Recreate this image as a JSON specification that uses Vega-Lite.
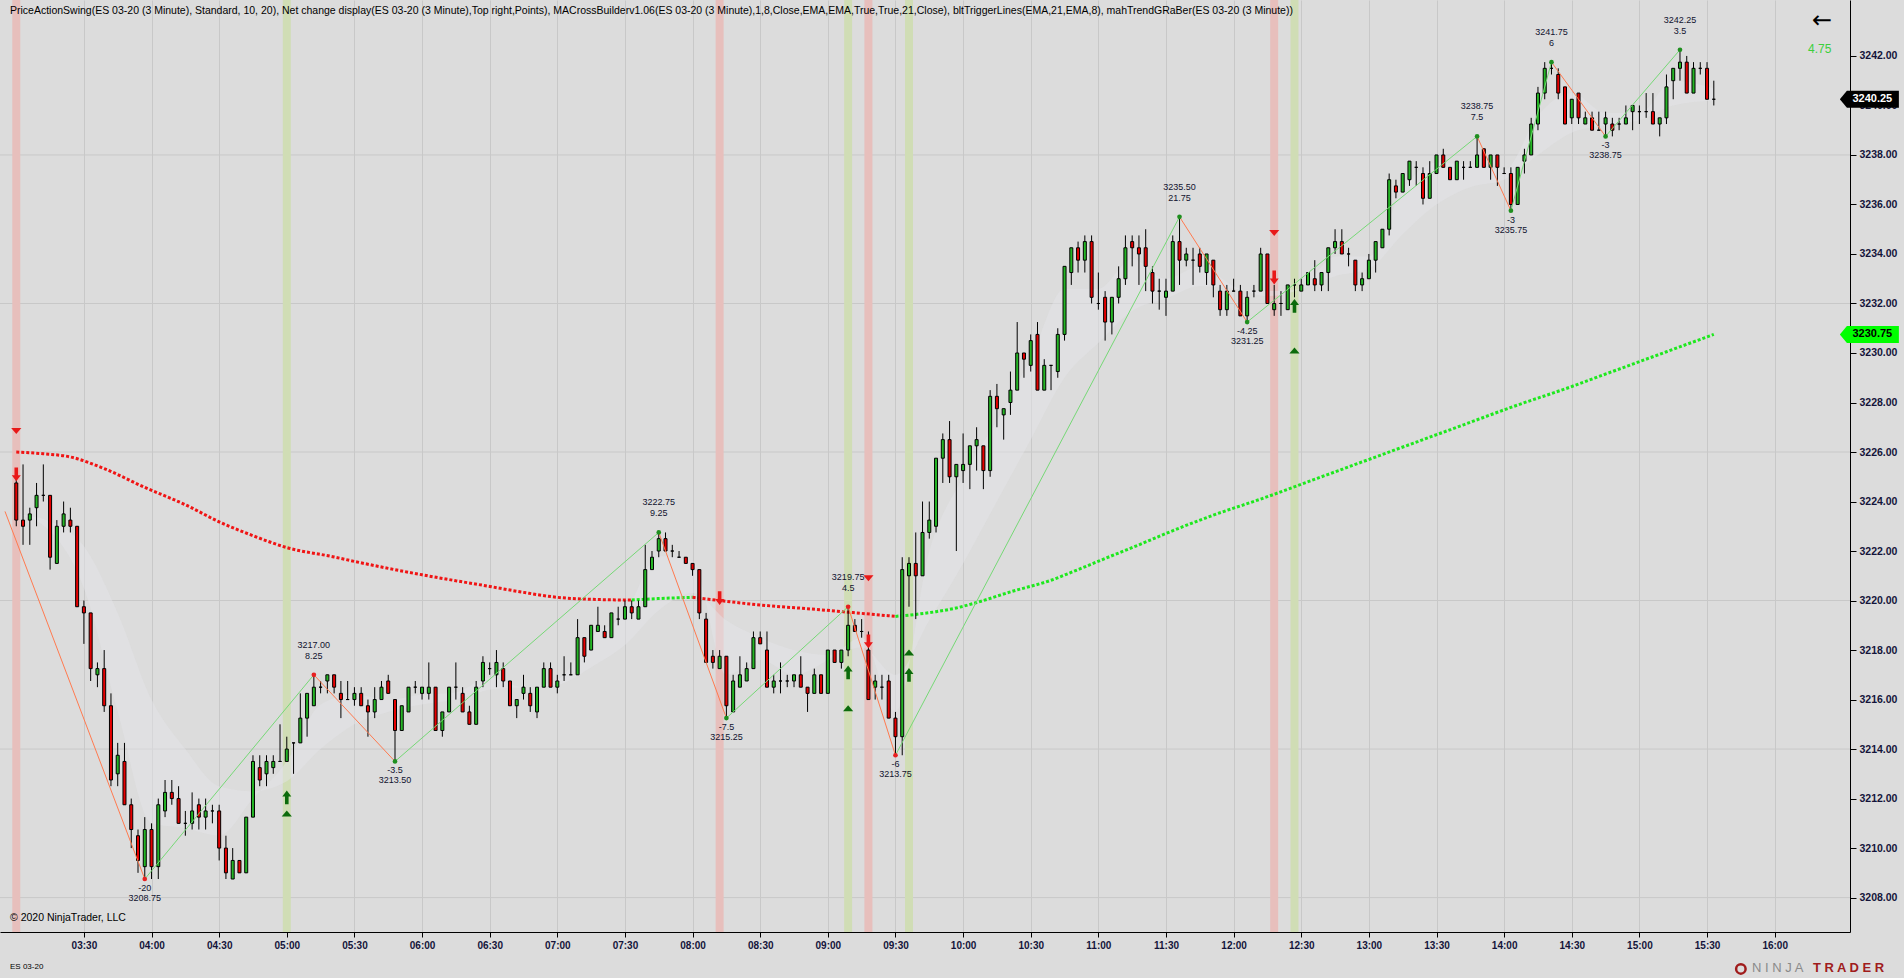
{
  "$schema": "https://vega.github.io/schema/vega-lite/v6.json",
  "width": 1850,
  "height": 932,
  "padding": {"left": 0, "top": 0, "right": 54, "bottom": 46},
  "autosize": {"type": "none"},
  "background": "#dcdcdc",
  "config": {"view": {"stroke": null}, "font": "Liberation Sans"},
  "datasets": {
    "c": [
      {"t":180,"o":3224.75,"h":3225.25,"l":3223,"c":3223.25},
      {"t":183,"o":3223.25,"h":3225.5,"l":3222.25,"c":3223},
      {"t":186,"o":3223.25,"h":3223.75,"l":3222.25,"c":3223.5},
      {"t":189,"o":3223.75,"h":3224.75,"l":3223,"c":3224.25},
      {"t":192,"o":3224.25,"h":3225.5,"l":3224,"c":3224.25},
      {"t":195,"o":3224.25,"h":3224.25,"l":3221.25,"c":3221.75},
      {"t":198,"o":3221.5,"h":3223.25,"l":3221.5,"c":3223},
      {"t":201,"o":3223,"h":3224,"l":3222.75,"c":3223.5},
      {"t":204,"o":3223.25,"h":3223.75,"l":3222.75,"c":3223},
      {"t":207,"o":3223,"h":3223,"l":3219.75,"c":3219.75},
      {"t":210,"o":3219.75,"h":3220,"l":3218.25,"c":3219.5},
      {"t":213,"o":3219.5,"h":3219.5,"l":3216.75,"c":3217.25},
      {"t":216,"o":3217,"h":3217.5,"l":3216.5,"c":3217.25},
      {"t":219,"o":3217.25,"h":3218,"l":3215.5,"c":3215.75},
      {"t":222,"o":3215.75,"h":3216.25,"l":3212.5,"c":3212.75},
      {"t":225,"o":3213,"h":3214.25,"l":3212.5,"c":3213.75},
      {"t":228,"o":3213.5,"h":3214.25,"l":3211.75,"c":3211.75},
      {"t":231,"o":3211.75,"h":3212,"l":3210,"c":3210.75},
      {"t":234,"o":3210.5,"h":3210.75,"l":3209,"c":3209.5},
      {"t":237,"o":3209.25,"h":3211.25,"l":3208.75,"c":3210.75},
      {"t":240,"o":3210.75,"h":3211,"l":3208.75,"c":3209.25},
      {"t":243,"o":3209.25,"h":3212,"l":3208.75,"c":3211.75},
      {"t":246,"o":3211.5,"h":3212.75,"l":3211.25,"c":3212.25},
      {"t":249,"o":3212.25,"h":3212.75,"l":3211.75,"c":3212},
      {"t":252,"o":3212,"h":3212.5,"l":3211,"c":3211},
      {"t":255,"o":3211,"h":3211.5,"l":3210.5,"c":3211},
      {"t":258,"o":3211,"h":3212.25,"l":3210.75,"c":3211.5},
      {"t":261,"o":3211.75,"h":3212,"l":3210.75,"c":3211.25},
      {"t":264,"o":3211.25,"h":3212,"l":3210.75,"c":3211.5},
      {"t":267,"o":3211.5,"h":3211.75,"l":3211,"c":3211.5},
      {"t":270,"o":3211.5,"h":3211.75,"l":3209.5,"c":3210},
      {"t":273,"o":3210,"h":3210.5,"l":3208.75,"c":3209},
      {"t":276,"o":3208.75,"h":3210,"l":3208.75,"c":3209.5},
      {"t":279,"o":3209.5,"h":3209.5,"l":3209,"c":3209},
      {"t":282,"o":3209,"h":3211.25,"l":3209,"c":3211.25},
      {"t":285,"o":3211.25,"h":3213.75,"l":3211.25,"c":3213.5},
      {"t":288,"o":3213.25,"h":3213.75,"l":3212.5,"c":3212.75},
      {"t":291,"o":3213,"h":3213.75,"l":3212.5,"c":3213.5},
      {"t":294,"o":3213.25,"h":3213.75,"l":3213,"c":3213.5},
      {"t":297,"o":3213.5,"h":3215,"l":3213.5,"c":3213.5},
      {"t":300,"o":3213.5,"h":3214.5,"l":3213.5,"c":3214},
      {"t":303,"o":3214.25,"h":3214.25,"l":3213,"c":3214.25},
      {"t":306,"o":3214.25,"h":3216.25,"l":3214.25,"c":3215.25},
      {"t":309,"o":3215.25,"h":3216.25,"l":3214.5,"c":3216.25},
      {"t":312,"o":3215.75,"h":3217,"l":3215.75,"c":3216.5},
      {"t":315,"o":3216.5,"h":3216.75,"l":3216.25,"c":3216.5},
      {"t":318,"o":3216.75,"h":3217,"l":3216.25,"c":3217},
      {"t":321,"o":3217,"h":3217,"l":3216.25,"c":3216.5},
      {"t":324,"o":3216.25,"h":3216.75,"l":3215.25,"c":3216},
      {"t":327,"o":3216,"h":3216.75,"l":3216,"c":3216},
      {"t":330,"o":3216,"h":3216.5,"l":3215.75,"c":3216.25},
      {"t":333,"o":3216.25,"h":3216.5,"l":3215.75,"c":3215.75},
      {"t":336,"o":3215.75,"h":3216,"l":3214.5,"c":3215.5},
      {"t":339,"o":3215.5,"h":3216.5,"l":3215.25,"c":3216},
      {"t":342,"o":3216,"h":3216.75,"l":3216,"c":3216.5},
      {"t":345,"o":3216.75,"h":3217,"l":3216.25,"c":3216.25},
      {"t":348,"o":3216,"h":3216,"l":3213.5,"c":3214.75},
      {"t":351,"o":3214.75,"h":3215.75,"l":3214.75,"c":3215.75},
      {"t":354,"o":3215.5,"h":3216.5,"l":3215.5,"c":3216.5},
      {"t":357,"o":3216.5,"h":3216.75,"l":3216.25,"c":3216.5},
      {"t":360,"o":3216.25,"h":3216.5,"l":3216,"c":3216.5},
      {"t":363,"o":3216.25,"h":3217.5,"l":3216,"c":3216.5},
      {"t":366,"o":3216.5,"h":3216.5,"l":3214.75,"c":3214.75},
      {"t":369,"o":3214.75,"h":3215.5,"l":3214.5,"c":3215.5},
      {"t":372,"o":3215.5,"h":3216.5,"l":3215.5,"c":3216.5},
      {"t":375,"o":3216.5,"h":3217.5,"l":3216,"c":3216.5},
      {"t":378,"o":3216.25,"h":3216.5,"l":3215.5,"c":3215.5},
      {"t":381,"o":3215.5,"h":3215.75,"l":3215,"c":3215},
      {"t":384,"o":3215,"h":3216.75,"l":3215,"c":3216.5},
      {"t":387,"o":3216.75,"h":3217.75,"l":3216.5,"c":3217.5},
      {"t":390,"o":3217.25,"h":3217.5,"l":3217,"c":3217.25},
      {"t":393,"o":3217,"h":3218,"l":3216.5,"c":3217.5},
      {"t":396,"o":3217.25,"h":3217.5,"l":3216.5,"c":3216.75},
      {"t":399,"o":3216.75,"h":3216.75,"l":3215.75,"c":3215.75},
      {"t":402,"o":3215.75,"h":3216,"l":3215.25,"c":3216},
      {"t":405,"o":3216.25,"h":3217,"l":3216,"c":3216.5},
      {"t":408,"o":3216.25,"h":3216.5,"l":3215.5,"c":3215.75},
      {"t":411,"o":3215.5,"h":3216.5,"l":3215.25,"c":3216.5},
      {"t":414,"o":3216.5,"h":3217.5,"l":3216.5,"c":3217.25},
      {"t":417,"o":3217.25,"h":3217.5,"l":3216.5,"c":3216.5},
      {"t":420,"o":3216.5,"h":3217,"l":3216.25,"c":3216.75},
      {"t":423,"o":3217,"h":3217.75,"l":3216.75,"c":3217},
      {"t":426,"o":3217,"h":3217.5,"l":3217,"c":3217},
      {"t":429,"o":3217,"h":3219.25,"l":3217,"c":3218.5},
      {"t":432,"o":3218.5,"h":3218.5,"l":3217.5,"c":3217.75},
      {"t":435,"o":3218,"h":3219,"l":3218,"c":3219},
      {"t":438,"o":3218.75,"h":3219.75,"l":3218.75,"c":3219},
      {"t":441,"o":3218.75,"h":3219,"l":3218.5,"c":3218.5},
      {"t":444,"o":3218.5,"h":3219.5,"l":3218.5,"c":3219.5},
      {"t":447,"o":3219.25,"h":3219.75,"l":3219,"c":3219.25},
      {"t":450,"o":3219.25,"h":3220,"l":3219.25,"c":3219.75},
      {"t":453,"o":3219.75,"h":3220,"l":3219.25,"c":3219.5},
      {"t":456,"o":3219.25,"h":3220,"l":3219.25,"c":3219.75},
      {"t":459,"o":3219.75,"h":3222.25,"l":3219.75,"c":3221.25},
      {"t":462,"o":3221.25,"h":3222,"l":3221.25,"c":3221.75},
      {"t":465,"o":3222,"h":3222.75,"l":3221.75,"c":3222.5},
      {"t":468,"o":3222.5,"h":3222.75,"l":3222,"c":3222},
      {"t":471,"o":3222,"h":3222.25,"l":3221.75,"c":3222},
      {"t":474,"o":3221.75,"h":3222,"l":3221.75,"c":3221.75},
      {"t":477,"o":3221.75,"h":3221.75,"l":3221.5,"c":3221.5},
      {"t":480,"o":3221.5,"h":3221.5,"l":3221,"c":3221.25},
      {"t":483,"o":3221.25,"h":3221.25,"l":3219.25,"c":3219.5},
      {"t":486,"o":3219.25,"h":3219.5,"l":3217.5,"c":3217.5},
      {"t":489,"o":3217.75,"h":3218,"l":3217.25,"c":3217.5},
      {"t":492,"o":3217.25,"h":3218,"l":3217.25,"c":3217.75},
      {"t":495,"o":3217.75,"h":3217.75,"l":3215.25,"c":3215.75},
      {"t":498,"o":3215.5,"h":3217,"l":3215.5,"c":3216.75},
      {"t":501,"o":3216.5,"h":3217.75,"l":3216.5,"c":3217},
      {"t":504,"o":3216.75,"h":3217.5,"l":3216.75,"c":3217.25},
      {"t":507,"o":3217.25,"h":3218.75,"l":3217.25,"c":3218.5},
      {"t":510,"o":3218.5,"h":3218.75,"l":3218.25,"c":3218.25},
      {"t":513,"o":3218,"h":3218.75,"l":3216.5,"c":3216.5},
      {"t":516,"o":3216.5,"h":3217,"l":3216.25,"c":3216.75},
      {"t":519,"o":3216.75,"h":3217.5,"l":3216.25,"c":3216.75},
      {"t":522,"o":3216.75,"h":3217,"l":3216.5,"c":3216.75},
      {"t":525,"o":3216.75,"h":3217,"l":3216.5,"c":3217},
      {"t":528,"o":3217,"h":3217.75,"l":3216.5,"c":3216.5},
      {"t":531,"o":3216.5,"h":3216.5,"l":3215.5,"c":3216.25},
      {"t":534,"o":3216.25,"h":3217.25,"l":3216.25,"c":3217},
      {"t":537,"o":3217,"h":3217,"l":3216.25,"c":3216.25},
      {"t":540,"o":3216.25,"h":3218,"l":3216.25,"c":3218},
      {"t":543,"o":3218,"h":3218,"l":3217.5,"c":3217.5},
      {"t":546,"o":3217.5,"h":3218,"l":3217.25,"c":3218},
      {"t":549,"o":3218,"h":3219.75,"l":3217.75,"c":3219},
      {"t":552,"o":3219,"h":3219.25,"l":3218.75,"c":3218.75},
      {"t":555,"o":3218.75,"h":3219.25,"l":3218.5,"c":3218.75},
      {"t":558,"o":3218,"h":3218.75,"l":3216,"c":3216},
      {"t":561,"o":3216.5,"h":3217,"l":3216,"c":3216.75},
      {"t":564,"o":3216.5,"h":3217,"l":3216,"c":3216.5},
      {"t":567,"o":3216.75,"h":3217,"l":3215.25,"c":3215.25},
      {"t":570,"o":3215.25,"h":3215.5,"l":3213.75,"c":3214.5},
      {"t":573,"o":3214.5,"h":3221.75,"l":3213.75,"c":3221.25},
      {"t":576,"o":3221,"h":3221.75,"l":3219.75,"c":3221.5},
      {"t":579,"o":3221.5,"h":3222.75,"l":3219.25,"c":3221},
      {"t":582,"o":3221,"h":3224,"l":3221,"c":3222.75},
      {"t":585,"o":3222.75,"h":3224,"l":3222.5,"c":3223.25},
      {"t":588,"o":3223,"h":3225.75,"l":3222.75,"c":3225.75},
      {"t":591,"o":3225.75,"h":3226.75,"l":3224.75,"c":3226.5},
      {"t":594,"o":3226.5,"h":3227.25,"l":3224.75,"c":3225},
      {"t":597,"o":3225,"h":3225.5,"l":3222,"c":3225.5},
      {"t":600,"o":3225.25,"h":3226.75,"l":3224.75,"c":3225.5},
      {"t":603,"o":3225.5,"h":3226.25,"l":3224.5,"c":3226.25},
      {"t":606,"o":3226.25,"h":3227,"l":3225.25,"c":3226.5},
      {"t":609,"o":3226.25,"h":3226.25,"l":3224.5,"c":3225.25},
      {"t":612,"o":3225.25,"h":3228.5,"l":3225,"c":3228.25},
      {"t":615,"o":3228.25,"h":3228.75,"l":3227,"c":3227.75},
      {"t":618,"o":3227.5,"h":3227.75,"l":3226.5,"c":3227.75},
      {"t":621,"o":3228,"h":3229.25,"l":3227.5,"c":3228.5},
      {"t":624,"o":3228.5,"h":3231.25,"l":3228.5,"c":3230},
      {"t":627,"o":3230,"h":3230,"l":3229,"c":3229.75},
      {"t":630,"o":3229.5,"h":3230.75,"l":3229.25,"c":3230.5},
      {"t":633,"o":3230.75,"h":3231.25,"l":3228.5,"c":3228.5},
      {"t":636,"o":3228.5,"h":3229.75,"l":3228.5,"c":3229.5},
      {"t":639,"o":3229.5,"h":3229.5,"l":3228.5,"c":3229.5},
      {"t":642,"o":3229.25,"h":3231,"l":3229,"c":3230.75},
      {"t":645,"o":3230.75,"h":3233.5,"l":3230.5,"c":3233.5},
      {"t":648,"o":3233.25,"h":3234.25,"l":3232.75,"c":3234.25},
      {"t":651,"o":3234.25,"h":3234.5,"l":3233.25,"c":3233.75},
      {"t":654,"o":3233.75,"h":3234.75,"l":3233.25,"c":3234.5},
      {"t":657,"o":3234.5,"h":3234.75,"l":3232,"c":3232.25},
      {"t":660,"o":3232,"h":3233.25,"l":3231.75,"c":3232},
      {"t":663,"o":3232.25,"h":3232.5,"l":3230.5,"c":3231.25},
      {"t":666,"o":3231.25,"h":3232.25,"l":3230.75,"c":3232.25},
      {"t":669,"o":3232.25,"h":3233.5,"l":3232,"c":3233},
      {"t":672,"o":3233,"h":3234.75,"l":3232.75,"c":3234.25},
      {"t":675,"o":3234.5,"h":3234.75,"l":3233.5,"c":3234.25},
      {"t":678,"o":3234.25,"h":3234.75,"l":3232.75,"c":3234},
      {"t":681,"o":3234.25,"h":3235,"l":3232.5,"c":3233.5},
      {"t":684,"o":3233.25,"h":3233.5,"l":3232,"c":3232.5},
      {"t":687,"o":3232.5,"h":3233,"l":3231.75,"c":3232.5},
      {"t":690,"o":3232.25,"h":3233,"l":3231.5,"c":3232.5},
      {"t":693,"o":3232.5,"h":3234.75,"l":3232.5,"c":3234.5},
      {"t":696,"o":3234.5,"h":3235.5,"l":3232.75,"c":3233.75},
      {"t":699,"o":3233.75,"h":3234.25,"l":3233.5,"c":3234},
      {"t":702,"o":3233.75,"h":3234.25,"l":3232.75,"c":3233.75},
      {"t":705,"o":3234,"h":3234.25,"l":3233.25,"c":3233.5},
      {"t":708,"o":3233.25,"h":3234,"l":3232.75,"c":3234},
      {"t":711,"o":3233.75,"h":3233.75,"l":3232.25,"c":3232.75},
      {"t":714,"o":3232.5,"h":3232.75,"l":3231.5,"c":3231.75},
      {"t":717,"o":3231.75,"h":3232.75,"l":3231.5,"c":3232.5},
      {"t":720,"o":3232.5,"h":3233,"l":3232.5,"c":3232.5},
      {"t":723,"o":3232.5,"h":3232.75,"l":3231.5,"c":3231.5},
      {"t":726,"o":3231.5,"h":3232.5,"l":3231.25,"c":3232.25},
      {"t":729,"o":3232.5,"h":3232.75,"l":3232.25,"c":3232.5},
      {"t":732,"o":3232.5,"h":3234.25,"l":3232.5,"c":3234},
      {"t":735,"o":3234,"h":3234,"l":3232,"c":3232},
      {"t":738,"o":3231.75,"h":3232.75,"l":3231.5,"c":3232},
      {"t":741,"o":3232,"h":3232.5,"l":3231.5,"c":3232},
      {"t":744,"o":3231.75,"h":3232.75,"l":3231.75,"c":3232.75},
      {"t":747,"o":3232.75,"h":3233,"l":3232.25,"c":3232.75},
      {"t":750,"o":3232.5,"h":3233,"l":3232.5,"c":3232.75},
      {"t":753,"o":3232.75,"h":3233.25,"l":3232.75,"c":3233.25},
      {"t":756,"o":3233,"h":3233.75,"l":3232.5,"c":3232.75},
      {"t":759,"o":3232.75,"h":3233.25,"l":3232.5,"c":3233.25},
      {"t":762,"o":3233.25,"h":3234.25,"l":3232.5,"c":3234.25},
      {"t":765,"o":3234.25,"h":3235,"l":3234,"c":3234.5},
      {"t":768,"o":3234.5,"h":3235,"l":3234,"c":3234},
      {"t":771,"o":3234,"h":3234.25,"l":3233.5,"c":3234},
      {"t":774,"o":3233.75,"h":3233.75,"l":3232.5,"c":3232.75},
      {"t":777,"o":3232.75,"h":3233.25,"l":3232.5,"c":3233},
      {"t":780,"o":3233,"h":3234,"l":3233,"c":3233.75},
      {"t":783,"o":3233.75,"h":3234.5,"l":3233.25,"c":3234.5},
      {"t":786,"o":3234.25,"h":3235,"l":3234.25,"c":3235},
      {"t":789,"o":3235,"h":3237.25,"l":3234.75,"c":3237},
      {"t":792,"o":3236.75,"h":3237,"l":3236.25,"c":3236.5},
      {"t":795,"o":3236.5,"h":3237.25,"l":3236.5,"c":3237.25},
      {"t":798,"o":3237,"h":3237.75,"l":3236.75,"c":3237.75},
      {"t":801,"o":3237.5,"h":3237.75,"l":3236.75,"c":3237.5},
      {"t":804,"o":3237.25,"h":3237.5,"l":3236,"c":3236.25},
      {"t":807,"o":3236.25,"h":3237.75,"l":3236.25,"c":3237.25},
      {"t":810,"o":3237.25,"h":3238,"l":3237.25,"c":3238},
      {"t":813,"o":3238,"h":3238.25,"l":3237.5,"c":3237.5},
      {"t":816,"o":3237.5,"h":3237.5,"l":3237,"c":3237},
      {"t":819,"o":3237,"h":3237.75,"l":3237,"c":3237.75},
      {"t":822,"o":3237.5,"h":3237.75,"l":3237,"c":3237.5},
      {"t":825,"o":3237.5,"h":3237.75,"l":3237.5,"c":3237.5},
      {"t":828,"o":3237.5,"h":3238.75,"l":3237.5,"c":3238},
      {"t":831,"o":3238.25,"h":3238.25,"l":3237.5,"c":3237.5},
      {"t":834,"o":3237.5,"h":3238,"l":3237,"c":3238},
      {"t":837,"o":3238,"h":3238,"l":3236.75,"c":3237.5},
      {"t":840,"o":3237.25,"h":3237.5,"l":3237.25,"c":3237.25},
      {"t":843,"o":3237.25,"h":3237.5,"l":3235.75,"c":3236},
      {"t":846,"o":3236,"h":3237.5,"l":3236,"c":3237.5},
      {"t":849,"o":3237.75,"h":3238.25,"l":3237.25,"c":3238},
      {"t":852,"o":3238,"h":3239.5,"l":3238,"c":3239.25},
      {"t":855,"o":3239.25,"h":3240.75,"l":3239,"c":3240.5},
      {"t":858,"o":3240.5,"h":3241.75,"l":3240.25,"c":3241.5},
      {"t":861,"o":3241.5,"h":3241.75,"l":3241.25,"c":3241.5},
      {"t":864,"o":3241.25,"h":3241.5,"l":3240.25,"c":3240.5},
      {"t":867,"o":3240.75,"h":3240.75,"l":3239.25,"c":3239.25},
      {"t":870,"o":3239.5,"h":3240.25,"l":3239.25,"c":3240.25},
      {"t":873,"o":3240.5,"h":3240.5,"l":3239.25,"c":3239.5},
      {"t":876,"o":3239.25,"h":3239.75,"l":3239.25,"c":3239.5},
      {"t":879,"o":3239.5,"h":3239.75,"l":3239,"c":3239},
      {"t":882,"o":3239,"h":3239.75,"l":3239,"c":3239},
      {"t":885,"o":3239.25,"h":3239.75,"l":3238.75,"c":3239.5},
      {"t":888,"o":3239.25,"h":3239.5,"l":3238.75,"c":3239},
      {"t":891,"o":3239.25,"h":3239.5,"l":3239,"c":3239.25},
      {"t":894,"o":3239.25,"h":3240,"l":3239.25,"c":3239.5},
      {"t":897,"o":3239.75,"h":3240,"l":3239,"c":3240},
      {"t":900,"o":3239.75,"h":3240,"l":3239.25,"c":3239.75},
      {"t":903,"o":3239.75,"h":3240.5,"l":3239.5,"c":3239.75},
      {"t":906,"o":3239.75,"h":3240.5,"l":3239.25,"c":3239.25},
      {"t":909,"o":3239.25,"h":3239.5,"l":3238.75,"c":3239.5},
      {"t":912,"o":3239.5,"h":3241.25,"l":3239.25,"c":3240.75},
      {"t":915,"o":3241,"h":3241.5,"l":3240.25,"c":3241.5},
      {"t":918,"o":3241.5,"h":3242.25,"l":3241,"c":3241.75},
      {"t":921,"o":3241.75,"h":3242,"l":3240.5,"c":3240.5},
      {"t":924,"o":3240.5,"h":3241.75,"l":3240.5,"c":3241.5},
      {"t":927,"o":3241.5,"h":3241.75,"l":3241.25,"c":3241.5},
      {"t":930,"o":3241.5,"h":3241.75,"l":3240.25,"c":3240.25},
      {"t":933,"o":3240.25,"h":3241,"l":3240,"c":3240.25}
    ],
    "rib": [
      {"t":180,"a":3223.5,"b":3223.5},{"t":195,"a":3223.2,"b":3222.8},{"t":210,"a":3222.2,"b":3220.5},
      {"t":225,"a":3219.5,"b":3215.5},{"t":240,"a":3216,"b":3211},{"t":255,"a":3214,"b":3210.8},
      {"t":270,"a":3212.5,"b":3210.5},{"t":285,"a":3212.3,"b":3212},{"t":300,"a":3212.7,"b":3213.5},
      {"t":315,"a":3214,"b":3215.8},{"t":330,"a":3215,"b":3216.2},{"t":345,"a":3215.5,"b":3216},
      {"t":360,"a":3215.8,"b":3216.2},{"t":375,"a":3216,"b":3216.3},{"t":390,"a":3216.4,"b":3216.9},
      {"t":405,"a":3216.5,"b":3216.5},{"t":420,"a":3216.6,"b":3216.8},{"t":435,"a":3217.3,"b":3218.5},
      {"t":450,"a":3218.2,"b":3219.5},{"t":465,"a":3219.6,"b":3221.8},{"t":480,"a":3220.3,"b":3221.6},
      {"t":495,"a":3219.2,"b":3217},{"t":510,"a":3218.5,"b":3217.6},{"t":525,"a":3218,"b":3217},
      {"t":540,"a":3217.8,"b":3217.6},{"t":555,"a":3218.1,"b":3218.5},{"t":570,"a":3217,"b":3215.5},
      {"t":585,"a":3219.2,"b":3222},{"t":600,"a":3221.5,"b":3225},{"t":615,"a":3224,"b":3227.3},
      {"t":630,"a":3226.5,"b":3229.8},{"t":645,"a":3229,"b":3232.6},{"t":660,"a":3230.4,"b":3232.6},
      {"t":675,"a":3231.7,"b":3233.8},{"t":690,"a":3232.2,"b":3233},{"t":705,"a":3232.7,"b":3233.5},
      {"t":720,"a":3232.6,"b":3232.7},{"t":735,"a":3232.5,"b":3232.3},{"t":750,"a":3232.6,"b":3232.6},
      {"t":765,"a":3233.1,"b":3233.9},{"t":780,"a":3233.4,"b":3233.9},{"t":795,"a":3234.8,"b":3236.6},
      {"t":810,"a":3236,"b":3237.7},{"t":825,"a":3236.7,"b":3237.6},{"t":840,"a":3237,"b":3237.4},
      {"t":855,"a":3238,"b":3239.6},{"t":870,"a":3238.9,"b":3240.5},{"t":885,"a":3239.2,"b":3239.7},
      {"t":900,"a":3239.4,"b":3239.7},{"t":915,"a":3240,"b":3241},{"t":933,"a":3240.2,"b":3240.7}
    ],
    "ema": [
      {"t":180,"p":3226.0,"seg":"a","col":"r"},
      {"t":192,"p":3225.93,"seg":"a","col":"r"},
      {"t":204,"p":3225.8,"seg":"a","col":"r"},
      {"t":219,"p":3225.33,"seg":"a","col":"r"},
      {"t":237,"p":3224.57,"seg":"a","col":"r"},
      {"t":255,"p":3223.87,"seg":"a","col":"r"},
      {"t":270,"p":3223.18,"seg":"a","col":"r"},
      {"t":285,"p":3222.62,"seg":"a","col":"r"},
      {"t":300,"p":3222.14,"seg":"a","col":"r"},
      {"t":321,"p":3221.76,"seg":"a","col":"r"},
      {"t":330,"p":3221.58,"seg":"a","col":"r"},
      {"t":345,"p":3221.3,"seg":"a","col":"r"},
      {"t":360,"p":3221.04,"seg":"a","col":"r"},
      {"t":375,"p":3220.8,"seg":"a","col":"r"},
      {"t":390,"p":3220.57,"seg":"a","col":"r"},
      {"t":405,"p":3220.33,"seg":"a","col":"r"},
      {"t":420,"p":3220.13,"seg":"a","col":"r"},
      {"t":435,"p":3220.05,"seg":"a","col":"r"},
      {"t":453,"p":3220.02,"seg":"a","col":"r"},
      {"t":453,"p":3220.02,"seg":"b","col":"g"},
      {"t":465,"p":3220.08,"seg":"b","col":"g"},
      {"t":480,"p":3220.13,"seg":"b","col":"g"},
      {"t":480,"p":3220.13,"seg":"c","col":"r"},
      {"t":492,"p":3220.0,"seg":"c","col":"r"},
      {"t":510,"p":3219.82,"seg":"c","col":"r"},
      {"t":531,"p":3219.67,"seg":"c","col":"r"},
      {"t":549,"p":3219.53,"seg":"c","col":"r"},
      {"t":570,"p":3219.36,"seg":"c","col":"r"},
      {"t":570,"p":3219.36,"seg":"d","col":"g"},
      {"t":579,"p":3219.44,"seg":"d","col":"g"},
      {"t":588,"p":3219.55,"seg":"d","col":"g"},
      {"t":597,"p":3219.7,"seg":"d","col":"g"},
      {"t":606,"p":3219.92,"seg":"d","col":"g"},
      {"t":621,"p":3220.35,"seg":"d","col":"g"},
      {"t":639,"p":3220.82,"seg":"d","col":"g"},
      {"t":651,"p":3221.25,"seg":"d","col":"g"},
      {"t":663,"p":3221.7,"seg":"d","col":"g"},
      {"t":678,"p":3222.25,"seg":"d","col":"g"},
      {"t":690,"p":3222.71,"seg":"d","col":"g"},
      {"t":711,"p":3223.45,"seg":"d","col":"g"},
      {"t":732,"p":3224.1,"seg":"d","col":"g"},
      {"t":762,"p":3225.1,"seg":"d","col":"g"},
      {"t":792,"p":3226.1,"seg":"d","col":"g"},
      {"t":822,"p":3227.1,"seg":"d","col":"g"},
      {"t":846,"p":3227.9,"seg":"d","col":"g"},
      {"t":867,"p":3228.55,"seg":"d","col":"g"},
      {"t":888,"p":3229.25,"seg":"d","col":"g"},
      {"t":912,"p":3230.05,"seg":"d","col":"g"},
      {"t":933,"p":3230.75,"seg":"d","col":"g"}
    ],
    "sw": [
      {"t1":175,"p1":3223.6,"t2":237,"p2":3208.75,"d":"dn"},
      {"t1":237,"p1":3208.75,"t2":312,"p2":3217,"d":"up"},
      {"t1":312,"p1":3217,"t2":348,"p2":3213.5,"d":"dn"},
      {"t1":348,"p1":3213.5,"t2":465,"p2":3222.75,"d":"up"},
      {"t1":465,"p1":3222.75,"t2":495,"p2":3215.25,"d":"dn"},
      {"t1":495,"p1":3215.25,"t2":549,"p2":3219.75,"d":"up"},
      {"t1":549,"p1":3219.75,"t2":570,"p2":3213.75,"d":"dn"},
      {"t1":570,"p1":3213.75,"t2":696,"p2":3235.5,"d":"up"},
      {"t1":696,"p1":3235.5,"t2":726,"p2":3231.25,"d":"dn"},
      {"t1":726,"p1":3231.25,"t2":828,"p2":3238.75,"d":"up"},
      {"t1":828,"p1":3238.75,"t2":843,"p2":3235.75,"d":"dn"},
      {"t1":843,"p1":3235.75,"t2":861,"p2":3241.75,"d":"up"},
      {"t1":861,"p1":3241.75,"t2":885,"p2":3238.75,"d":"dn"},
      {"t1":885,"p1":3238.75,"t2":918,"p2":3242.25,"d":"up"}
    ],
    "sp": [
      {"t":237,"p":3208.75,"k":"l","a":"-20","b":"3208.75","dot":"r"},
      {"t":312,"p":3217,"k":"h","a":"3217.00","b":"8.25","dot":"r"},
      {"t":348,"p":3213.5,"k":"l","a":"-3.5","b":"3213.50","dot":"g"},
      {"t":465,"p":3222.75,"k":"h","a":"3222.75","b":"9.25","dot":"g"},
      {"t":495,"p":3215.25,"k":"l","a":"-7.5","b":"3215.25","dot":"g"},
      {"t":549,"p":3219.75,"k":"h","a":"3219.75","b":"4.5","dot":"r"},
      {"t":570,"p":3213.75,"k":"l","a":"-6","b":"3213.75","dot":"r"},
      {"t":696,"p":3235.5,"k":"h","a":"3235.50","b":"21.75","dot":"g"},
      {"t":726,"p":3231.25,"k":"l","a":"-4.25","b":"3231.25","dot":"g"},
      {"t":828,"p":3238.75,"k":"h","a":"3238.75","b":"7.5","dot":"g"},
      {"t":843,"p":3235.75,"k":"l","a":"-3","b":"3235.75","dot":"g"},
      {"t":861,"p":3241.75,"k":"h","a":"3241.75","b":"6","dot":"g"},
      {"t":885,"p":3238.75,"k":"l","a":"-3","b":"3238.75","dot":"g"},
      {"t":918,"p":3242.25,"k":"h","a":"3242.25","b":"3.5","dot":"g"}
    ],
    "sig": [
      {"t":180,"p":3226.85,"s":"td"},
      {"t":180,"p":3225.1,"s":"ad"},
      {"t":300,"p":3212.05,"s":"au"},
      {"t":300,"p":3211.4,"s":"tu"},
      {"t":492,"p":3220.1,"s":"ad"},
      {"t":549,"p":3217.1,"s":"au"},
      {"t":549,"p":3215.65,"s":"tu"},
      {"t":558,"p":3220.9,"s":"td"},
      {"t":558,"p":3218.35,"s":"ad"},
      {"t":576,"p":3217.9,"s":"tu"},
      {"t":576,"p":3217.0,"s":"au"},
      {"t":738,"p":3234.85,"s":"td"},
      {"t":738,"p":3233.05,"s":"ad"},
      {"t":747,"p":3231.9,"s":"au"},
      {"t":747,"p":3230.1,"s":"tu"}
    ],
    "band": [
      {"t":180,"k":"r"},{"t":300,"k":"g"},{"t":492,"k":"r"},{"t":549,"k":"g"},
      {"t":558,"k":"r"},{"t":576,"k":"g"},{"t":738,"k":"r"},{"t":747,"k":"g"}
    ],
    "gl": [{"p":3208},{"p":3214},{"p":3220},{"p":3226},{"p":3232},{"p":3238}],
    "tag": [
      {"t":1002,"p":3240.25,"lab":"3240.25","k":"last"},
      {"t":1002,"p":3230.75,"lab":"3230.75","k":"ema"}
    ],
    "ann": [
      {"t":175,"p":3243.82,"k":"title","txt":"PriceActionSwing(ES 03-20 (3 Minute), Standard, 10, 20), Net change display(ES 03-20 (3 Minute),Top right,Points), MACrossBuilderv1.06(ES 03-20 (3 Minute),1,8,Close,EMA,EMA,True,True,21,Close), bltTriggerLines(EMA,21,EMA,8), mahTrendGRaBer(ES 03-20 (3 Minute))"},
      {"t":175,"p":3207.17,"k":"copy","txt":"© 2020 NinjaTrader, LLC"},
      {"t":175,"p":3205.19,"k":"sym","txt":"ES 03-20"},
      {"t":945,"p":3205.12,"k":"icon","txt":""},
      {"t":950,"p":3205.15,"k":"logo1","txt":"N I N J A"},
      {"t":977,"p":3205.15,"k":"logo2","txt":"T R A D E R"},
      {"t":981,"p":3243.41,"k":"arrow","txt":"←"},
      {"t":980,"p":3242.28,"k":"net","txt":"4.75"}
    ]
  },
  "layer": [
    {
      "data": {"name": "gl"},
      "mark": {"type": "rule", "color": "#c8c8c8", "strokeWidth": 1},
      "encoding": {
        "y": {
          "field": "p", "type": "quantitative", "title": null,
          "scale": {"domain": [3206.61, 3244.26], "nice": false, "zero": false},
          "axis": {
            "orient": "right", "format": ".2f",
            "values": [3208, 3210, 3212, 3214, 3216, 3218, 3220, 3222, 3224, 3226, 3228, 3230, 3232, 3234, 3236, 3238, 3240, 3242],
            "grid": false, "domainColor": "#000000", "tickColor": "#000000", "tickSize": 6,
            "labelPadding": 3, "labelFontSize": 10.5, "labelFontWeight": "bold", "labelColor": "#14143a"
          }
        }
      }
    },
    {
      "data": {"name": "band"},
      "mark": {"type": "rule", "strokeWidth": 8},
      "encoding": {
        "x": {
          "field": "t", "type": "quantitative", "title": null,
          "scale": {"domain": [175, 991.2], "nice": false, "zero": false},
          "axis": {
            "values": [210, 240, 270, 300, 330, 360, 390, 420, 450, 480, 510, 540, 570, 600, 630, 660, 690, 720, 750, 780, 810, 840, 870, 900, 930, 960],
            "labelExpr": "timeFormat(datetime(2020, 0, 1, 0, datum.value), '%H:%M')",
            "grid": true, "gridColor": "#c8c8c8", "domainColor": "#000000", "tickColor": "#000000",
            "tickSize": 5, "labelPadding": 3, "labelFontSize": 10, "labelFontWeight": "bold",
            "labelColor": "#14143a", "labelFlush": false
          }
        },
        "color": {"condition": {"test": "datum.k == 'g'", "value": "#d0ddb5"}, "value": "#e7bfbc"}
      }
    },
    {
      "data": {"name": "rib"},
      "mark": {"type": "area", "color": "#e4e4e8", "opacity": 0.5, "interpolate": "monotone"},
      "encoding": {
        "x": {"field": "t", "type": "quantitative", "title": null},
        "y": {"field": "a", "type": "quantitative", "title": null},
        "y2": {"field": "b"}
      }
    },
    {
      "data": {"name": "ema"},
      "mark": {"type": "line", "strokeWidth": 3, "strokeDash": [3, 2], "interpolate": "monotone"},
      "encoding": {
        "x": {"field": "t", "type": "quantitative", "title": null},
        "y": {"field": "p", "type": "quantitative", "title": null},
        "detail": {"field": "seg", "type": "nominal"},
        "color": {"condition": {"test": "datum.col == 'g'", "value": "#1ee81e"}, "value": "#f01414"}
      }
    },
    {
      "data": {"name": "c"},
      "mark": {"type": "rule", "color": "#000000", "strokeWidth": 1},
      "encoding": {
        "x": {"field": "t", "type": "quantitative", "title": null},
        "y": {"field": "l", "type": "quantitative", "title": null},
        "y2": {"field": "h"}
      }
    },
    {
      "data": {"name": "c"},
      "mark": {"type": "bar", "width": 3, "stroke": "#000000", "strokeWidth": 1},
      "encoding": {
        "x": {"field": "t", "type": "quantitative", "title": null},
        "y": {"field": "o", "type": "quantitative", "title": null},
        "y2": {"field": "c"},
        "color": {"condition": {"test": "datum.c >= datum.o", "value": "#25b525"}, "value": "#e60000"}
      }
    },
    {
      "data": {"name": "sw"},
      "mark": {"type": "rule", "strokeWidth": 1},
      "encoding": {
        "x": {"field": "t1", "type": "quantitative", "title": null},
        "x2": {"field": "t2"},
        "y": {"field": "p1", "type": "quantitative", "title": null},
        "y2": {"field": "p2"},
        "color": {"condition": {"test": "datum.d == 'up'", "value": "#76d876"}, "value": "#ff7a4f"}
      }
    },
    {
      "data": {"name": "sp"},
      "mark": {"type": "point", "filled": true, "opacity": 1, "size": 22},
      "encoding": {
        "x": {"field": "t", "type": "quantitative", "title": null},
        "y": {"field": "p", "type": "quantitative", "title": null},
        "color": {"condition": {"test": "datum.dot == 'g'", "value": "#1f8f1f"}, "value": "#e82020"}
      }
    },
    {
      "data": {"name": "sp"},
      "transform": [{"filter": "datum.k == 'h'"}],
      "mark": {"type": "text", "fontSize": 9, "dy": -30, "color": "#10122e"},
      "encoding": {
        "x": {"field": "t", "type": "quantitative", "title": null},
        "y": {"field": "p", "type": "quantitative", "title": null},
        "text": {"field": "a", "type": "nominal"}
      }
    },
    {
      "data": {"name": "sp"},
      "transform": [{"filter": "datum.k == 'h'"}],
      "mark": {"type": "text", "fontSize": 9, "dy": -19, "color": "#10122e"},
      "encoding": {
        "x": {"field": "t", "type": "quantitative", "title": null},
        "y": {"field": "p", "type": "quantitative", "title": null},
        "text": {"field": "b", "type": "nominal"}
      }
    },
    {
      "data": {"name": "sp"},
      "transform": [{"filter": "datum.k == 'l'"}],
      "mark": {"type": "text", "fontSize": 9, "dy": 9, "color": "#10122e"},
      "encoding": {
        "x": {"field": "t", "type": "quantitative", "title": null},
        "y": {"field": "p", "type": "quantitative", "title": null},
        "text": {"field": "a", "type": "nominal"}
      }
    },
    {
      "data": {"name": "sp"},
      "transform": [{"filter": "datum.k == 'l'"}],
      "mark": {"type": "text", "fontSize": 9, "dy": 19, "color": "#10122e"},
      "encoding": {
        "x": {"field": "t", "type": "quantitative", "title": null},
        "y": {"field": "p", "type": "quantitative", "title": null},
        "text": {"field": "b", "type": "nominal"}
      }
    },
    {
      "data": {"name": "sig"},
      "mark": {"type": "point", "filled": true, "opacity": 1, "size": 144},
      "encoding": {
        "x": {"field": "t", "type": "quantitative", "title": null},
        "y": {"field": "p", "type": "quantitative", "title": null},
        "shape": {
          "field": "s", "type": "nominal", "legend": null,
          "scale": {
            "domain": ["td", "tu", "ad", "au"],
            "range": [
              "M-0.85,-0.5L0.85,-0.5L0,0.5Z",
              "M-0.85,0.5L0.85,0.5L0,-0.5Z",
              "M-0.3,-1.15L0.3,-1.15L0.3,0.15L0.75,0.15L0,1.15L-0.75,0.15L-0.3,0.15Z",
              "M-0.3,1.15L0.3,1.15L0.3,-0.15L0.75,-0.15L0,-1.15L-0.75,-0.15L-0.3,-0.15Z"
            ]
          }
        },
        "color": {"condition": {"test": "datum.s == 'td' || datum.s == 'ad'", "value": "#e81818"}, "value": "#0c6b0c"}
      }
    },
    {
      "data": {"name": "tag"},
      "mark": {"type": "point", "filled": true, "opacity": 1, "size": 3481, "shape": "M-1,0L-0.76,-0.29L1,-0.29L1,0.29L-0.76,0.29Z"},
      "encoding": {
        "x": {"field": "t", "type": "quantitative", "title": null},
        "y": {"field": "p", "type": "quantitative", "title": null},
        "color": {"condition": {"test": "datum.k == 'ema'", "value": "#00ff00"}, "value": "#000000"}
      }
    },
    {
      "data": {"name": "tag"},
      "mark": {"type": "text", "fontSize": 11, "fontWeight": "bold", "dx": 3},
      "encoding": {
        "x": {"field": "t", "type": "quantitative", "title": null},
        "y": {"field": "p", "type": "quantitative", "title": null},
        "text": {"field": "lab", "type": "nominal"},
        "color": {"condition": {"test": "datum.k == 'ema'", "value": "#000000"}, "value": "#ffffff"}
      }
    },
    {
      "data": {"name": "ann"},
      "transform": [{"filter": "datum.k == 'title' || datum.k == 'copy'"}],
      "mark": {"type": "text", "fontSize": 10.5, "align": "left", "dx": 5, "color": "#000000"},
      "encoding": {
        "x": {"field": "t", "type": "quantitative", "title": null},
        "y": {"field": "p", "type": "quantitative", "title": null},
        "text": {"field": "txt", "type": "nominal"}
      }
    },
    {
      "data": {"name": "ann"},
      "transform": [{"filter": "datum.k == 'sym'"}],
      "mark": {"type": "text", "fontSize": 8, "align": "left", "dx": 5, "color": "#000000"},
      "encoding": {
        "x": {"field": "t", "type": "quantitative", "title": null},
        "y": {"field": "p", "type": "quantitative", "title": null},
        "text": {"field": "txt", "type": "nominal"}
      }
    },
    {
      "data": {"name": "ann"},
      "transform": [{"filter": "datum.k == 'icon'"}],
      "mark": {"type": "point", "shape": "circle", "size": 90, "strokeWidth": 2.5, "color": "#a01c1c", "filled": false, "opacity": 1},
      "encoding": {
        "x": {"field": "t", "type": "quantitative", "title": null},
        "y": {"field": "p", "type": "quantitative", "title": null}
      }
    },
    {
      "data": {"name": "ann"},
      "transform": [{"filter": "datum.k == 'logo1'"}],
      "mark": {"type": "text", "fontSize": 13, "align": "left", "color": "#8a8a8a"},
      "encoding": {
        "x": {"field": "t", "type": "quantitative", "title": null},
        "y": {"field": "p", "type": "quantitative", "title": null},
        "text": {"field": "txt", "type": "nominal"}
      }
    },
    {
      "data": {"name": "ann"},
      "transform": [{"filter": "datum.k == 'logo2'"}],
      "mark": {"type": "text", "fontSize": 13, "fontWeight": "bold", "align": "left", "color": "#a01c1c"},
      "encoding": {
        "x": {"field": "t", "type": "quantitative", "title": null},
        "y": {"field": "p", "type": "quantitative", "title": null},
        "text": {"field": "txt", "type": "nominal"}
      }
    },
    {
      "data": {"name": "ann"},
      "transform": [{"filter": "datum.k == 'arrow'"}],
      "mark": {"type": "text", "fontSize": 24, "color": "#000000", "font": "DejaVu Sans"},
      "encoding": {
        "x": {"field": "t", "type": "quantitative", "title": null},
        "y": {"field": "p", "type": "quantitative", "title": null},
        "text": {"field": "txt", "type": "nominal"}
      }
    },
    {
      "data": {"name": "ann"},
      "transform": [{"filter": "datum.k == 'net'"}],
      "mark": {"type": "text", "fontSize": 12, "color": "#3ccf3c"},
      "encoding": {
        "x": {"field": "t", "type": "quantitative", "title": null},
        "y": {"field": "p", "type": "quantitative", "title": null},
        "text": {"field": "txt", "type": "nominal"}
      }
    }
  ]
}
